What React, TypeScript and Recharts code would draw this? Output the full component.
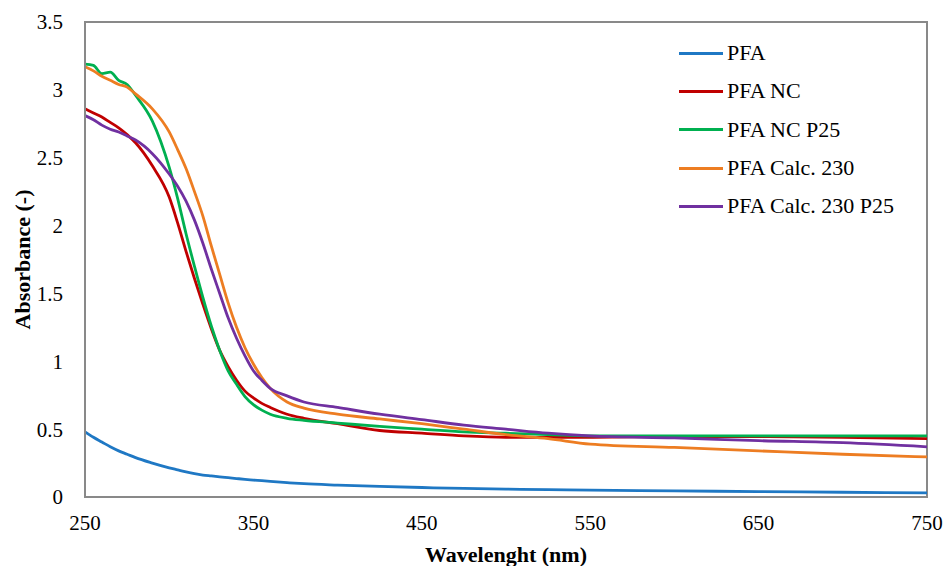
import React from 'react'
import { LineChart, Line, XAxis, YAxis, Legend, ReferenceArea } from 'recharts'

// wavelength grid (nm)
const wavelength = [
  250, 255, 260, 265, 270, 275, 280, 290, 300, 305, 310, 315, 320, 325, 330, 335, 340,
  345, 350, 355, 360, 370, 380, 400, 425, 450, 475, 500, 525, 550, 600, 650, 700, 750,
]

const pfa = [
  0.48, 0.44, 0.405, 0.37, 0.34, 0.315, 0.29, 0.25, 0.215, 0.2, 0.185, 0.172, 0.162, 0.155, 0.148,
  0.142, 0.136, 0.13, 0.125, 0.12, 0.115, 0.106, 0.098, 0.088, 0.078, 0.07, 0.063, 0.058,
  0.054, 0.05, 0.045, 0.04, 0.035, 0.03,
]

const pfaNc = [
  2.86, 2.83, 2.8, 2.76, 2.72, 2.67, 2.61, 2.44, 2.21, 2.02, 1.81, 1.61, 1.42, 1.24, 1.08, 0.96,
  0.86, 0.78, 0.73, 0.69, 0.66, 0.61, 0.58, 0.54, 0.49, 0.47, 0.45, 0.44, 0.44, 0.44, 0.445,
  0.445, 0.44, 0.43,
]

const pfaNcP25 = [
  3.19, 3.18, 3.12, 3.13, 3.07, 3.04, 2.96, 2.77, 2.43, 2.2, 1.94, 1.7, 1.47, 1.26, 1.08, 0.93,
  0.83, 0.74, 0.68, 0.64, 0.61, 0.58, 0.565, 0.545, 0.52, 0.5, 0.48, 0.47, 0.46, 0.45, 0.45,
  0.45, 0.45, 0.45,
]

const pfaCalc230 = [
  3.17, 3.14, 3.1, 3.07, 3.04, 3.02, 2.97, 2.86, 2.69, 2.56, 2.42, 2.25, 2.07, 1.85, 1.64, 1.43,
  1.25, 1.1, 0.98, 0.88, 0.8, 0.7, 0.655, 0.61, 0.575, 0.54, 0.5, 0.46, 0.43, 0.39, 0.365,
  0.34, 0.315, 0.295,
]

const pfaCalc230P25 = [
  2.81, 2.78, 2.74, 2.71, 2.69, 2.66, 2.63, 2.53, 2.38, 2.29, 2.18, 2.04, 1.87, 1.68, 1.5, 1.32,
  1.17, 1.04, 0.93, 0.86, 0.8, 0.745, 0.7, 0.66, 0.61, 0.57, 0.53, 0.5, 0.47, 0.45, 0.435,
  0.415, 0.4, 0.37,
]

const xTicks = [250, 350, 450, 550, 650, 750]
const yTicks = [0, 0.5, 1, 1.5, 2, 2.5, 3, 3.5]

const series = [
  { key: 'pfa', name: 'PFA', color: '#1f78c4', values: pfa },
  { key: 'pfaNc', name: 'PFA NC', color: '#c00000', values: pfaNc },
  { key: 'pfaNcP25', name: 'PFA NC P25', color: '#00b050', values: pfaNcP25 },
  { key: 'pfaCalc230', name: 'PFA Calc. 230', color: '#ed7d22', values: pfaCalc230 },
  { key: 'pfaCalc230P25', name: 'PFA Calc. 230 P25', color: '#7030a0', values: pfaCalc230P25 },
]

const data = wavelength.map((wl, i) => {
  const row: Record<string, number> = { wl }
  series.forEach((s) => {
    row[s.key] = s.values[i]
  })
  return row
})

const FONT = '"Liberation Serif", "Times New Roman", serif'
const AXIS = '#898989'

// legend keeps the series order (recharts sorts by name otherwise)
const renderLegend = () => (
  <div style={{ fontFamily: FONT, fontSize: 22, color: '#000' }}>
    {series.map((s) => (
      <div key={s.key} style={{ display: 'flex', alignItems: 'center', height: 38.3 }}>
        <div style={{ width: 44, height: 3, background: s.color, marginRight: 4 }} />
        <span>{s.name}</span>
      </div>
    ))}
  </div>
)

const App: React.FC = () => {
  return (
    <div style={{ position: 'absolute', left: 0, top: 0, background: '#fff' }}>
      <LineChart width={945} height={566} data={data} margin={{ top: 22, right: 18, left: 0, bottom: 0 }}>
        <ReferenceArea x1={250} x2={750} y1={0} y2={3.5} fill="none" stroke={AXIS} strokeWidth={2} ifOverflow="visible" />
        <XAxis
          dataKey="wl"
          type="number"
          domain={[250, 750]}
          ticks={xTicks}
          height={69}
          tickLine={false}
          tickSize={0}
          tickMargin={18}
          axisLine={{ stroke: AXIS, strokeWidth: 2 }}
          tick={{ fill: '#000', fontSize: 21, fontFamily: FONT }}
          label={() => (
            <text x={506} y={562} textAnchor="middle" fontFamily={FONT} fontSize={22} fontWeight="bold" fill="#000">
              Wavelenght (nm)
            </text>
          )}
        />
        <YAxis
          type="number"
          domain={[0, 3.5]}
          ticks={yTicks}
          width={85}
          tickLine={false}
          tickSize={0}
          tickMargin={22}
          axisLine={{ stroke: AXIS, strokeWidth: 2 }}
          tick={{ fill: '#000', fontSize: 21, fontFamily: FONT }}
          label={() => {
            const cy = 22 + 475 / 2
            return (
              <text
                x={22}
                y={cy}
                transform={`rotate(-90, 22, ${cy})`}
                textAnchor="middle"
                dominantBaseline="central"
                fontFamily={FONT}
                fontSize={22}
                fontWeight="bold"
                fill="#000"
              >
                Absorbance (-)
              </text>
            )
          }}
        />
        <Legend
          layout="horizontal"
          verticalAlign="middle"
          align="center"
          content={renderLegend}
          wrapperStyle={{ left: 679, top: 34, width: 260, height: 200 }}
        />
        {series.map((s) => (
          <Line
            key={s.key}
            type="monotone"
            dataKey={s.key}
            name={s.name}
            stroke={s.color}
            strokeWidth={2.8}
            dot={false}
            activeDot={false}
            isAnimationActive={false}
          />
        ))}
      </LineChart>
    </div>
  )
}

export default App
